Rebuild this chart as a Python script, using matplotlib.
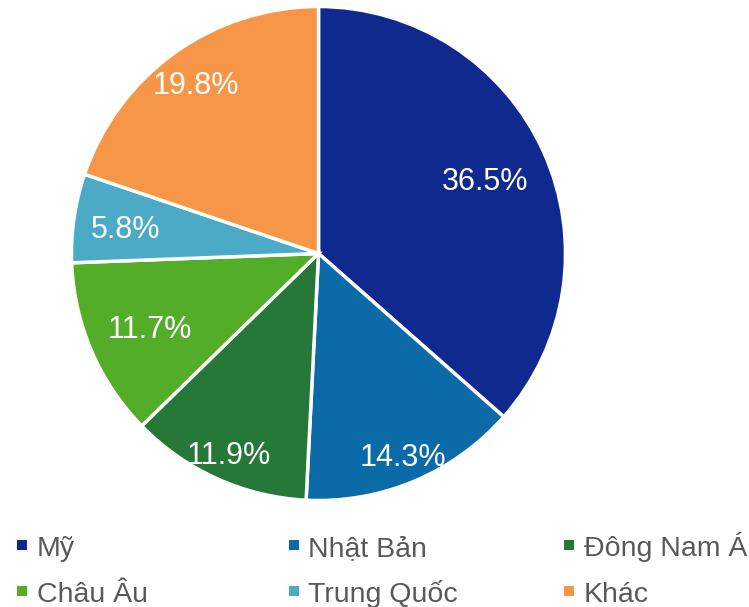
import matplotlib.pyplot as plt
from matplotlib.patches import Rectangle
import numpy as np

plt.rcParams['font.family'] = ['Liberation Sans', 'DejaVu Sans']

# du lieu
labels = ['Mỹ', 'Nhật Bản', 'Đông Nam Á', 'Châu Âu', 'Trung Quốc', 'Khác']
values = [36.5, 14.3, 11.9, 11.7, 5.8, 19.8]
colors = ['#10298E', '#0A6BA8', '#267838', '#53AD29', '#4BABC6', '#F79646']
# khoang cach nhan so voi tam (ti le ban kinh)
label_dist = [0.74, 0.88, 0.88, 0.745, 0.79, 0.855]

W, H = 749, 607
fig = plt.figure(figsize=(W / 100, H / 100), dpi=100)
# truc cho hinh tron: tam (318.5, 253.5), ban kinh 247 px
r_px = 247
cx, cy = 318.5, 253.5
ax = fig.add_axes([(cx - r_px) / W, (H - cy - r_px) / H, 2 * r_px / W, 2 * r_px / H])

wedges, _ = ax.pie(values, colors=colors, startangle=90, counterclock=False,
                   wedgeprops=dict(edgecolor='white', linewidth=2.5), radius=1)
ax.set_xlim(-1, 1)
ax.set_ylim(-1, 1)
ax.set_aspect('equal')
ax.axis('off')

for w, v, d in zip(wedges, values, label_dist):
    ang = np.deg2rad((w.theta1 + w.theta2) / 2)
    ax.annotate(f'{v:.1f}%', (d * np.cos(ang), d * np.sin(ang)),
                xytext=(0, -3), textcoords='offset points', color='white',
                fontsize=22, ha='center', va='center')

# chu thich: 2 hang x 3 cot (toa do pixel)
col_x = [22, 293.5, 568.5]
row_y = [556, 602]  # baseline
for i, (lab, c) in enumerate(zip(labels, colors)):
    x = col_x[i % 3]
    yb = row_y[i // 3]
    yc = yb - 11
    fig.add_artist(Rectangle(((x - 5) / W, (H - yc - 5) / H), 10 / W, 10 / H,
                             transform=fig.transFigure, facecolor=c, edgecolor='none'))
    fig.text((x + 15) / W, (H - yb) / H, lab, fontsize=20.5, color='#595959',
             ha='left', va='baseline')

fig.savefig('out.png', dpi=100)
